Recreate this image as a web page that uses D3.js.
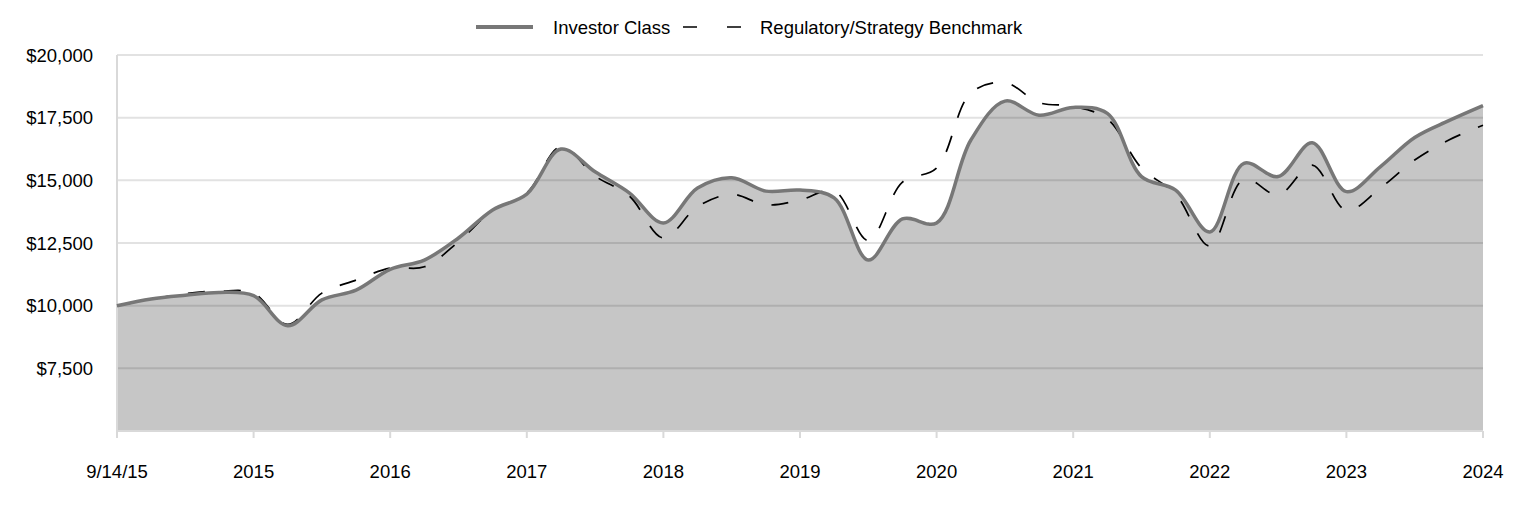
<html>
<head>
    <meta charset="utf-8" />
    <script src="https://d3js.org/d3.v7.min.js"></script>
    <style>
        body { margin: 0; background: #fff; font-family: "Liberation Sans", Arial, Helvetica, sans-serif; }
        text { fill: #000; font-size: 18.5px; }
    </style>
</head>
<body>
    <svg id="chart" width="1524" height="516"></svg>
    <script>
        // quarterly values, 9/14/15 .. 2024
        const investor = [10000, 10270, 10420, 10530, 10400, 9200, 10230, 10620, 11450, 11820,
            12700, 13820, 14450, 16250, 15340, 14500, 13300, 14690, 15100, 14570,
            14610, 14300, 11820, 13460, 13300, 16600, 18160, 17600, 17910, 17670,
            15150, 14610, 12940, 15680, 15150, 16500, 14550, 15550, 16710, 17380, 17980]
        const benchmark = [10000, 10250, 10480, 10580, 10500, 9250, 10500, 11020, 11500, 11550,
            12550, 13800, 14500, 16350, 15170, 14380, 12700, 13950, 14440, 14020,
            14210, 14580, 12600, 14930, 15490, 18480, 18900, 18100, 17950, 17450,
            15490, 14450, 12380, 15050, 14420, 15610, 13800, 14700, 15810, 16610, 17200]
        const xLabels = ["9/14/15", "2015", "2016", "2017", "2018", "2019", "2020", "2021", "2022", "2023", "2024"]
        const yTicks = [7500, 10000, 12500, 15000, 17500, 20000]
        const seriesNames = ["Investor Class", "Regulatory/Strategy Benchmark"]

        const svg = d3.select("svg#chart")
        const margin = { left: 117, right: 41, top: 55, bottom: 85 }
        const width = +svg.attr("width"), height = +svg.attr("height")
        const chartWidth = width - margin.left - margin.right
        const chartHeight = height - margin.top - margin.bottom

        const x = d3.scaleLinear().domain([0, investor.length - 1]).range([0, chartWidth])
        const y = d3.scaleLinear().domain([5000, 20000]).range([chartHeight, 0])

        const g = svg.append("g").attr("transform", `translate(${margin.left}, ${margin.top})`)

        // grid lines
        g.append("g").selectAll("line").data(yTicks)
            .join("line")
            .attr("x1", 0).attr("x2", chartWidth)
            .attr("y1", d => y(d)).attr("y2", d => y(d))
            .attr("stroke", "#e2e2e2").attr("stroke-width", 2)

        g.append("g").selectAll("text").data(yTicks)
            .join("text")
            .attr("x", -24).attr("y", d => y(d))
            .attr("dy", "0.36em")
            .attr("text-anchor", "end")
            .text(d => "$" + d3.format(",")(d))

        const curve = d3.curveCatmullRom.alpha(0.5)

        const area = d3.area().x((d, i) => x(i)).y0(chartHeight).y1(d => y(d)).curve(curve)
        g.append("path").datum(investor)
            .attr("d", area)
            .attr("fill", "#000").attr("fill-opacity", 0.225)

        // axes lines
        g.append("line").attr("x1", 0).attr("x2", 0).attr("y1", 0).attr("y2", chartHeight + 6)
            .attr("stroke", "#d9d9d9").attr("stroke-width", 2)
        g.append("line").attr("x1", 0).attr("x2", chartWidth).attr("y1", chartHeight).attr("y2", chartHeight)
            .attr("stroke", "#d9d9d9").attr("stroke-width", 2)

        const tickIdx = xLabels.map((d, i) => i * 4)
        g.append("g").selectAll("line").data(tickIdx)
            .join("line")
            .attr("x1", d => x(d)).attr("x2", d => x(d))
            .attr("y1", chartHeight).attr("y2", chartHeight + 7)
            .attr("stroke", "#d9d9d9").attr("stroke-width", 2)
        g.append("g").selectAll("text").data(tickIdx)
            .join("text")
            .attr("x", d => x(d)).attr("y", chartHeight + 47)
            .attr("text-anchor", "middle")
            .text((d, i) => xLabels[i])

        const line = d3.line().x((d, i) => x(i)).y(d => y(d)).curve(curve)
        g.append("path").datum(benchmark)
            .attr("d", line)
            .attr("fill", "none").attr("stroke", "#000")
            .attr("stroke-width", 1.7).attr("stroke-dasharray", "17,19")
        g.append("path").datum(investor)
            .attr("d", line)
            .attr("fill", "none").attr("stroke", "#777")
            .attr("stroke-width", 3.5)

        // legend
        const legend = svg.append("g")
        legend.append("line").attr("x1", 476).attr("x2", 533).attr("y1", 27).attr("y2", 27)
            .attr("stroke", "#777").attr("stroke-width", 4)
        legend.append("text").attr("x", 553).attr("y", 27).attr("dy", "0.36em").text(seriesNames[0])
        legend.append("line").attr("x1", 683).attr("x2", 741).attr("y1", 27).attr("y2", 27)
            .attr("stroke", "#000").attr("stroke-width", 1.7).attr("stroke-dasharray", "14,30")
        legend.append("text").attr("x", 760).attr("y", 27).attr("dy", "0.36em").text(seriesNames[1])
    </script>
</body>
</html>
